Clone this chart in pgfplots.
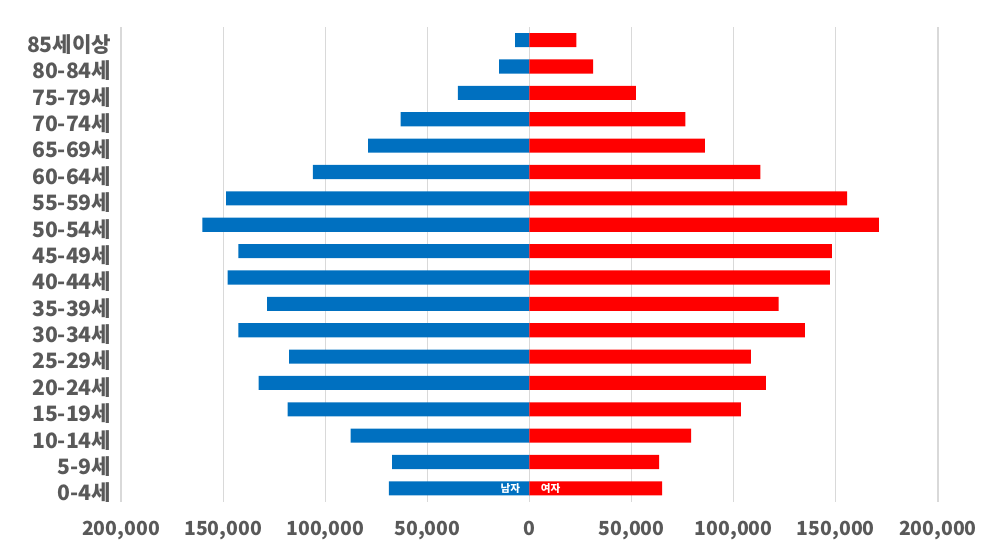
\documentclass[border=0pt]{standalone}
\usepackage{fontspec}
\setmainfont{Noto Sans CJK KR}
\usepackage{pgfplots}
\pgfplotsset{compat=1.18}
\definecolor{male}{HTML}{0070C0}
\definecolor{female}{HTML}{FF0000}
\definecolor{lbl}{HTML}{595959}
\definecolor{gridgray}{HTML}{D9D9D9}

% 1 px of the reference = 0.567pt
\pgfplotstableread{
idx male female
0  -68800  65000
1  -67300  63500
2  -87600  79200
3  -118400 103500
4  -132600 115800
5  -117700 108400
6  -142600 134900
7  -128400 122000
8  -147800 147100
9  -142600 148100
10 -160200 171100
11 -148500 155600
12 -106000 113100
13 -79000  85900
14 -63100  76300
15 -35000  52100
16 -14900  31200
17 -7000   23000
}\pyramid

\begin{document}
\begin{tikzpicture}
\begin{axis}[
  scale only axis,
  width=463pt,
  height=269pt,
  xbar,
  bar shift=0pt,
  bar width=8pt,
  xmin=-200000, xmax=200000,
  ymin=-0.5, ymax=17.5,
  scaled x ticks=false,
  xtick={-200000,-150000,-100000,-50000,0,50000,100000,150000,200000},
  xticklabels={200{,}000,150{,}000,100{,}000,50{,}000,0,50{,}000,100{,}000,150{,}000,200{,}000},
  ytick={0,...,17},
  yticklabels={0-4세,5-9세,10-14세,15-19세,20-24세,25-29세,30-34세,35-39세,40-44세,45-49세,50-54세,55-59세,60-64세,65-69세,70-74세,75-79세,80-84세,85세이상},
  xticklabel style={font=\bfseries\fontsize{11}{13}\selectfont, text=lbl, yshift=-7.5pt},
  yticklabel style={font=\bfseries\fontsize{12}{14}\selectfont, text=lbl, xshift=-2pt, yshift=-2.5pt},
  xmajorgrids=true,
  ymajorgrids=false,
  x grid style={gridgray, line width=0.7pt},
  axis line style={draw=none},
  tick style={draw=none},
  major tick length=0pt,
  clip=false,
]
\addplot[fill=male, draw=none] table[x=male, y=idx] {\pyramid};
\addplot[fill=female, draw=none] table[x=female, y=idx] {\pyramid};
\node[anchor=east, text=white, font=\bfseries\fontsize{6}{7}\selectfont, inner sep=1pt] at (axis cs:-3500,0) {남자};
\node[anchor=west, text=white, font=\bfseries\fontsize{6}{7}\selectfont, inner sep=1pt] at (axis cs:4500,0) {여자};
\end{axis}
\path (current axis.south west) ++(-68.6pt,-31.7pt) (current axis.north east) ++(35.2pt,15.3pt);
\end{tikzpicture}
\end{document}
